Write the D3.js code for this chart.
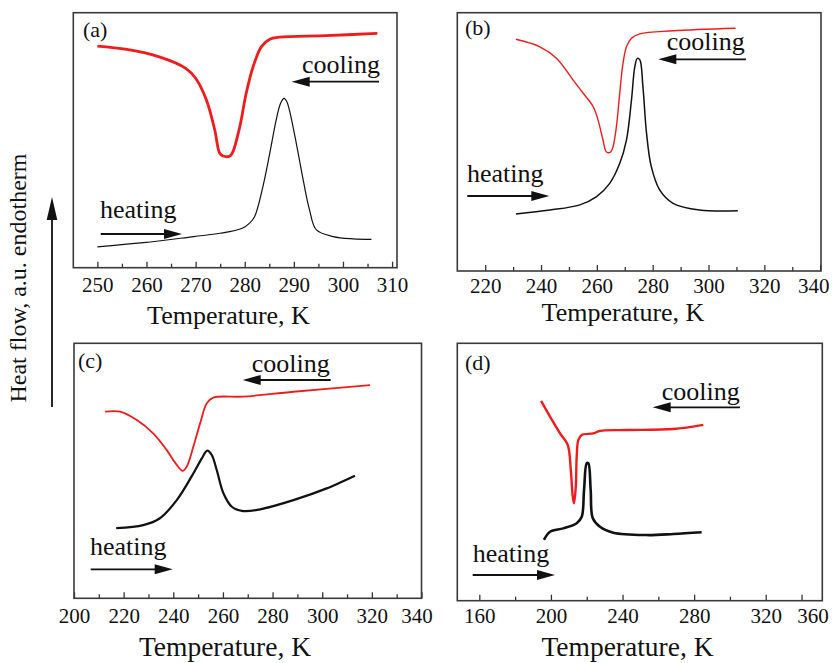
<!DOCTYPE html>
<html>
<head>
<meta charset="utf-8">
<script src="https://cdn.jsdelivr.net/npm/d3@7/dist/d3.min.js"></script>
<style>
  html, body { margin: 0; padding: 0; background: #fff; }
  svg { display: block; }
  svg text { font-family: "Liberation Serif", "Times New Roman", serif !important; fill: #111; }
</style>
</head>
<body>
<svg id="chart" width="833" height="663"></svg>
<script>
// ---------- data (temperature in K, heat flow in a.u.) ----------
const panelLabels = ["(a)", "(b)", "(c)", "(d)"];
const axisTitle = "Temperature, K";
const yTitle = "Heat flow, a.u. endotherm";
const coolText = "cooling";
const heatText = "heating";

// (a)
const aCoolT = [250, 256, 262.6, 268, 270, 272.2, 273.9, 274.9, 275.6, 277, 277.6, 279, 280.3, 281.7, 283.4, 285.1, 287.1, 296.6, 307];
const aCoolV = [86.9, 85.6, 82.7, 78.2, 74.3, 65.8, 54.0, 44.9, 43.8, 43.8, 45.5, 55.3, 68.4, 78.8, 86.7, 89.6, 90.4, 91.0, 91.9];
const aHeatT = [250, 259.4, 269.6, 275, 279.5, 281.0, 282.0, 283.7, 285.1, 286.4, 287.3, 288.0, 288.6, 289.1, 290.5, 291.9, 293.2, 294.6, 298, 302.1, 305.8];
const aHeatV = [8.2, 9.8, 12.2, 13.5, 15.5, 17.5, 20.0, 31.8, 44.9, 57.9, 64.5, 66.4, 65.0, 61.8, 48.8, 34.4, 22.6, 14.8, 12.2, 11.3, 11.1];
// (b)
const bCoolT = [231, 239.6, 245.6, 251.5, 255.1, 258.7, 260.4, 262.2, 263.4, 264.9, 265.8, 267, 268.2, 269.2, 270.6, 272.4, 275.4, 287.3, 309.7];
const bCoolV = [89.7, 86.8, 82.3, 73.9, 68.8, 63.6, 58.5, 50.7, 46.2, 46.0, 48.1, 55.9, 68.8, 79.1, 86.8, 90.1, 91.8, 93.0, 94.0];
const bHeatT = [231, 243.2, 253.9, 259.9, 264.6, 268.2, 270.6, 272.4, 273.6, 274.5, 275.4, 276.5, 277.8, 279.5, 282.5, 287.3, 296.8, 310.5];
const bHeatV = [22.1, 23.6, 25.6, 28.8, 33.9, 41.7, 50.7, 66.2, 79.1, 82.3, 81.7, 71.4, 53.3, 40.4, 31.4, 26.2, 23.6, 23.3];
// (c)
const cCoolT = [212.5, 218.5, 225.3, 231.9, 237.3, 241.4, 243.8, 245.4, 248.1, 250.8, 253.5, 256.1, 268.2, 288.4, 319.3];
const cCoolV = [73.2, 73.2, 69.9, 64.7, 58.2, 52.3, 50.0, 51.6, 59.5, 68.6, 76.5, 78.7, 79.1, 81.0, 83.6];
const cHeatT = [217, 227.9, 234.6, 241.4, 248.1, 251.5, 253.7, 255.5, 257.5, 260.2, 263.6, 268.2, 275, 288.4, 301.8, 313.2];
const cHeatV = [27.5, 28.7, 31.4, 38.5, 49.0, 54.9, 57.9, 56.2, 50.3, 41.2, 35.9, 34.2, 34.9, 38.5, 43.1, 48.1];
// (d)
const dCoolT = [194.5, 199.5, 205.1, 209.4, 211.1, 212.2, 212.9, 213.9, 214.4, 215.3, 217.2, 223.7, 227.4, 242.3, 268.4, 285.1];
const dCoolV = [77.6, 71.5, 65.0, 60.5, 50.8, 40.4, 37.8, 44.3, 55.9, 62.4, 64.4, 65.0, 66.0, 66.3, 66.7, 68.3];
const dHeatT = [196.1, 199.5, 206.9, 214.4, 217.2, 218.5, 220, 220.9, 222.2, 223.4, 227.4, 234.9, 253.5, 268.4, 284.2];
const dHeatV = [23.6, 26.8, 28.1, 30.1, 32.6, 43.0, 53.4, 53.4, 43.0, 32.0, 28.7, 26.4, 25.5, 25.9, 26.6];

// axis domains and ticks
const xDomains = [[245.1, 311], [210, 340.3], [200, 340], [147.7, 351.6]];
const majorTicks = [
  [250, 260, 270, 280, 290, 300, 310],
  [220, 240, 260, 280, 300, 320, 340],
  [200, 220, 240, 260, 280, 300, 320, 340],
  [160, 200, 240, 280, 320, 340]
];
const tickLabels = [
  ["250", "260", "270", "280", "290", "300", "310"],
  ["220", "240", "260", "280", "300", "320", "340"],
  ["200", "220", "240", "260", "280", "300", "320", "340"],
  ["160", "200", "240", "280", "320", "360"]
];
const minorTicks = [
  [255, 265, 275, 285, 295, 305],
  [230, 250, 270, 290, 310, 330],
  [210, 230, 250, 270, 290, 310, 330],
  [180, 220, 260, 300]
];

const coolSeries = [[aCoolT, aCoolV], [bCoolT, bCoolV], [cCoolT, cCoolV], [dCoolT, dCoolV]];
const heatSeries = [[aHeatT, aHeatV], [bHeatT, bHeatV], [cHeatT, cHeatV], [dHeatT, dHeatV]];

// ---------- layout (pixels) ----------
const layout = [
  {x0: 73.3, x1: 397, y0: 12.7, y1: 267.7, tickBase: 292, titleBase: 324, titleX: 228.5, titleSize: 26,
   coolW: 2.8, heatW: 1.2, lastDx: 0,
   lab: [83, 37], cool: [302, 73], coolArrow: [379, 291.7, 81.7], heat: [100, 218], heatArrow: [100.7, 182, 234]},
  {x0: 457.3, x1: 821, y0: 12.7, y1: 271, tickBase: 293, titleBase: 321, titleX: 623, titleSize: 26,
   coolW: 1.4, heatW: 1.5, lastDx: -7,
   lab: [465, 35], cool: [666.7, 50], coolArrow: [746, 658.3, 59.3], heat: [467, 181.7], heatArrow: [467.3, 549.3, 196]},
  {x0: 74, x1: 421.5, y0: 343.3, y1: 598.3, tickBase: 623, titleBase: 656, titleX: 225, titleSize: 27.5,
   coolW: 1.8, heatW: 2.2, lastDx: -5,
   lab: [78, 368], cool: [251.7, 371.7], coolArrow: [330.7, 242.7, 380], heat: [90, 555], heatArrow: [90.7, 172.7, 569.3]},
  {x0: 457.3, x1: 822.3, y0: 343.3, y1: 600.7, tickBase: 623, titleBase: 656, titleX: 627.5, titleSize: 27.5,
   coolW: 2.4, heatW: 2.6, lastDx: 11,
   lab: [465, 370], cool: [661.7, 400], coolArrow: [740, 652.7, 407.3], heat: [472.7, 561.7], heatArrow: [472.7, 555, 575]}
];

const RED = "#f01c1c";
const FONT = '"Liberation Serif", "Times New Roman", serif';
const svg = d3.select("#chart");

function arrow(g, xa, xb, y) {
  const dir = Math.sign(xb - xa);
  const headL = 18, headW = 5;
  g.append("line").attr("x1", xa).attr("x2", xb - dir * headL * 0.6).attr("y1", y).attr("y2", y)
    .attr("stroke", "#111").attr("stroke-width", 1.8);
  g.append("path")
    .attr("d", d3.line()([[xb, y], [xb - dir * headL, y - headW], [xb - dir * headL, y + headW]]) + "Z")
    .attr("fill", "#111");
}

layout.forEach((L, i) => {
  const g = svg.append("g");
  const x = d3.scaleLinear().domain(xDomains[i]).range([L.x0, L.x1]);
  const y = d3.scaleLinear().domain([0, 100]).range([L.y1, L.y0]);

  const line = d3.line().x(d => x(d[0])).y(d => y(d[1])).curve(d3.curveCatmullRom.alpha(0.5));
  const [ct, cv] = coolSeries[i];
  const [ht, hv] = heatSeries[i];
  g.append("path").datum(ct.map((t, k) => [t, cv[k]])).attr("d", line)
    .attr("fill", "none").attr("stroke", RED).attr("stroke-width", L.coolW).attr("stroke-linejoin", "round");
  g.append("path").datum(ht.map((t, k) => [t, hv[k]])).attr("d", line)
    .attr("fill", "none").attr("stroke", "#111").attr("stroke-width", L.heatW).attr("stroke-linejoin", "round");

  const labs = tickLabels[i];
  const axMajor = d3.axisBottom(x).tickValues(majorTicks[i]).tickSize(-6).tickPadding(0)
    .tickFormat((d, k) => labs[k]);
  const ax = g.append("g").attr("transform", `translate(0,${L.y1})`).call(axMajor);
  ax.attr("font-family", null).attr("font-size", null);
  ax.select(".domain").remove();
  ax.selectAll(".tick line").attr("stroke", "#333").attr("stroke-width", 1.3);
  ax.selectAll(".tick text")
    .style("font-family", FONT).style("font-size", "21px").attr("fill", "#111")
    .attr("y", L.tickBase - L.y1).attr("dy", 0);
  ax.selectAll(".tick text").filter((d, k) => k === labs.length - 1).attr("dx", L.lastDx);
  const axMinor = d3.axisBottom(x).tickValues(minorTicks[i]).tickSize(-4).tickFormat("");
  const ax2 = g.append("g").attr("transform", `translate(0,${L.y1})`).call(axMinor);
  ax2.select(".domain").remove();
  ax2.selectAll(".tick line").attr("stroke", "#333").attr("stroke-width", 1.3);

  g.append("rect").attr("x", L.x0).attr("y", L.y0).attr("width", L.x1 - L.x0).attr("height", L.y1 - L.y0)
    .attr("fill", "none").attr("stroke", "#3a3a3a").attr("stroke-width", 1.6);

  g.append("text").attr("x", L.titleX).attr("y", L.titleBase).attr("text-anchor", "middle")
    .style("font-size", L.titleSize + "px").text(axisTitle);

  g.append("text").attr("x", L.lab[0]).attr("y", L.lab[1]).style("font-size", "22px").text(panelLabels[i]);
  g.append("text").attr("x", L.cool[0]).attr("y", L.cool[1]).style("font-size", "26px").text(coolText);
  g.append("text").attr("x", L.heat[0]).attr("y", L.heat[1]).style("font-size", "26px").text(heatText);
  arrow(g, L.coolArrow[0], L.coolArrow[1], L.coolArrow[2]);
  arrow(g, L.heatArrow[0], L.heatArrow[1], L.heatArrow[2]);
});

svg.append("text").attr("transform", "translate(26,278) rotate(-90)").attr("text-anchor", "middle")
  .style("font-size", "24px").text(yTitle);
svg.append("line").attr("x1", 52).attr("x2", 52).attr("y1", 407).attr("y2", 210)
  .attr("stroke", "#111").attr("stroke-width", 1.8);
svg.append("path").attr("d", d3.line()([[52, 197], [46.7, 220], [57.3, 220]]) + "Z").attr("fill", "#111");
</script>
</body>
</html>
